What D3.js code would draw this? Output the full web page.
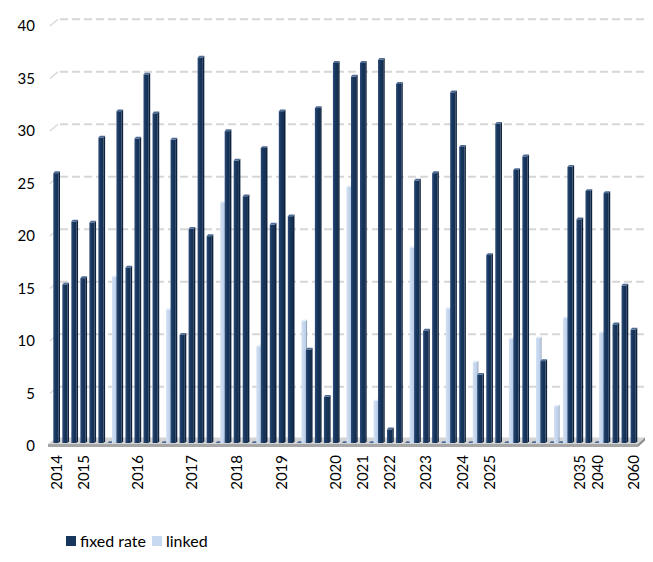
<!DOCTYPE html>
<html>
<head>
<meta charset="utf-8">
<title>fixed rate vs linked</title>
<script src="https://cdn.jsdelivr.net/npm/d3@7"></script>
<style>
  body { margin: 0; background: #fff; }
  text { font-family: Lato, "Liberation Sans", sans-serif; fill: #000; }
</style>
</head>
<body>
<div id="chart"></div>
<script>
// one entry per category (bond)
var labels = ["2014","","","2015","","","","","","2016","","","","","","2017","","","","","2018","","","","","2019",
              "","","","","","2020","","","2021","","","2022","","","","2023","","","","2024","","","2025","",
              "","","","","","","","","2035","","2040","","","","2060"];
var fixedRate = [25.7,15.1,21.1,15.7,21.0,29.1,0,31.6,16.7,29.0,35.1,31.4,0,28.9,10.3,20.4,36.7,19.7,0,29.7,
                 26.9,23.5,0,28.1,20.8,31.6,21.6,0,8.9,31.9,4.4,36.2,0,34.9,36.2,0,36.5,1.3,34.2,0,
                 25.0,10.7,25.7,0,33.4,28.2,0,6.5,17.9,30.4,0,26.0,27.3,0,7.8,0,0,26.3,21.3,24.0,
                 0,23.8,11.3,15.0,10.8];
var linked = [null,null,null,null,null,null,15.8,null,null,null,null,null,12.7,null,null,null,null,null,22.9,null,
              null,null,9.2,null,null,null,null,11.6,null,null,null,null,24.4,null,null,4.0,null,null,null,18.6,
              null,null,null,12.8,null,null,7.7,null,null,null,9.9,null,null,10.0,null,3.5,11.9,null,null,null,
              10.5,null,null,null,null];
var yTicks = [0,5,10,15,20,25,30,35,40];
var seriesNames = ["fixed rate","linked"];

var width = 653, height = 562;
var svg = d3.select("#chart").append("svg")
    .attr("width", width)
    .attr("height", height);

var defs = svg.append("defs");
var gd = defs.append("linearGradient").attr("id","gDark");
gd.append("stop").attr("offset","0%").attr("stop-color","#2c4c78");
gd.append("stop").attr("offset","45%").attr("stop-color","#17365d");
gd.append("stop").attr("offset","100%").attr("stop-color","#132d4f");
var gl = defs.append("linearGradient").attr("id","gLight");
gl.append("stop").attr("offset","0%").attr("stop-color","#d3e1f4");
gl.append("stop").attr("offset","100%").attr("stop-color","#b9cde8");

var x = d3.scaleBand()
    .domain(d3.range(labels.length))
    .range([51.8, 51.8 + labels.length * 9.02])
    .paddingInner(0).paddingOuter(0);
var y = d3.scaleLinear().domain([0, 40]).range([443, 23]);

// back wall offset of the 3d box
var backDx = 8, backDy = -3.8;

// gridlines (side wall + back wall)
var grid = svg.append("g");
yTicks.forEach(function(t) {
  if (t === 0) return;
  grid.append("line")
      .attr("x1", 50).attr("y1", y(t) + 3)
      .attr("x2", 50 + backDx).attr("y2", y(t) + backDy)
      .attr("stroke", "#d9d9d9").attr("stroke-width", 1.5);
  grid.append("line")
      .attr("x1", 50 + backDx + 2).attr("y1", y(t) + backDy)
      .attr("x2", 645).attr("y2", y(t) + backDy)
      .attr("stroke", "#d6d6d6").attr("stroke-width", 2)
      .attr("stroke-dasharray", "8,4");
});

// floor
var floor = svg.append("g");
floor.append("polygon")
    .attr("points", [[48, y(0) + 1], [638, y(0) + 1], [645, y(0) - 5.5], [56, y(0) - 5.5]].join(" "))
    .attr("fill", "#d4d4d4");
floor.append("rect")
    .attr("x", 48).attr("y", y(0) + 1).attr("width", 590).attr("height", 3)
    .attr("fill", "#a6a6a6");
floor.append("polygon")
    .attr("points", [[638, y(0) + 1], [645, y(0) - 5.5], [645, y(0) - 2.5], [638, y(0) + 4]].join(" "))
    .attr("fill", "#8c8c8c");

function bar3d(g, x0, w, v, d, dh, cFront, cSide, cTop) {
  var yt = y(v), yb = y(0);
  if (yb - yt > 0) {
    g.append("polygon")
        .attr("points", [[x0 + w, yt], [x0 + w + d, yt - dh], [x0 + w + d, yb - dh], [x0 + w, yb]].join(" "))
        .attr("fill", cSide);
    g.append("rect")
        .attr("x", x0).attr("y", yt).attr("width", w).attr("height", yb - yt)
        .attr("fill", cFront);
  }
  g.append("polygon")
      .attr("points", [[x0, yt], [x0 + d, yt - dh], [x0 + w + d, yt - dh], [x0 + w, yt]].join(" "))
      .attr("fill", cTop);
}

var bars = svg.append("g");
labels.forEach(function(l, i) {
  var bx = x(i);
  bar3d(bars, bx + 1.5, 5.2, fixedRate[i], 1.5, 1.8, "url(#gDark)", "#0d223d", "#4d6a94");
  if (linked[i] != null) {
    bar3d(bars, bx + 6.1, 4.4, linked[i], 1.2, 1.6, "url(#gLight)", "#8fa3bd", "#e4edf8");
  }
});

// y axis labels
var yLab = d3.scaleLinear().domain([0, 40]).range([y(0) + 3, y(40) + 3]);
var yAxis = svg.append("g")
    .attr("transform", "translate(35,0)")
    .call(d3.axisLeft(yLab).tickValues(yTicks).tickSize(0).tickPadding(0));
yAxis.select(".domain").remove();
yAxis.selectAll("text")
    .style("font-family", "Lato, 'Liberation Sans', sans-serif")
    .style("font-size", "15px")
    .attr("fill", "#000");

// x category labels, rotated
svg.append("g").selectAll("text")
  .data(labels.map(function(l, i) { return {l: l, i: i}; }).filter(function(d) { return d.l !== ""; }))
  .enter().append("text")
    .attr("transform", function(d) { return "translate(" + (x(d.i) + 4.6) + ",455) rotate(-90)"; })
    .attr("dy", "0.35em")
    .attr("text-anchor", "end")
    .style("font-size", "15px")
    .text(function(d) { return d.l; });

// legend
var legend = svg.append("g").attr("transform", "translate(66,536)");
var legColors = ["#17365d", "#c6d9f1"];
var legX = [0, 86];
seriesNames.forEach(function(s, i) {
  legend.append("rect")
      .attr("x", legX[i]).attr("y", 0).attr("width", 10).attr("height", 10)
      .attr("fill", legColors[i]);
  legend.append("text")
      .attr("x", legX[i] + 14).attr("y", 5).attr("dy", "0.35em")
      .style("font-size", "16px")
      .text(s);
});
</script>
</body>
</html>
